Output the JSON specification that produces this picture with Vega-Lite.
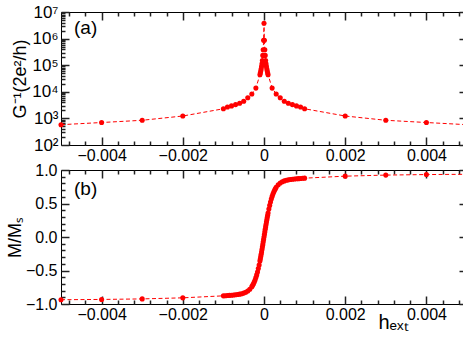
{
  "$schema": "https://vega.github.io/schema/vega-lite/v6.json",
  "padding": {"left": 5, "top": 2, "right": 4, "bottom": 0},
  "spacing": 25,
  "bounds": "flush",
  "config": {
    "view": {"stroke": "black", "strokeWidth": 1},
    "font": "Liberation Sans",
    "axis": {
      "grid": false,
      "ticks": true,
      "domain": false,
      "tickColor": "#222222",
      "tickWidth": 1.5,
      "tickOpacity": 1,
      "zindex": 2,
      "labelFont": "Liberation Sans",
      "labelFontSize": 16,
      "labelColor": "black",
      "labelOverlap": false,
      "labelFlush": false,
      "titleFont": "Liberation Sans",
      "titleFontSize": 18,
      "titleFontWeight": "normal",
      "titleColor": "black"
    }
  },
  "datasets": {
    "top": [
      {"h": -0.005, "g": 580}, {"h": -0.004, "g": 700}, {"h": -0.003, "g": 850}, {"h": -0.002, "g": 1230},
      {"h": -0.001, "g": 2300}, {"h": -0.0009, "g": 2700}, {"h": -0.0008, "g": 2950}, {"h": -0.0007, "g": 3300},
      {"h": -0.0006, "g": 3700}, {"h": -0.0005, "g": 4400}, {"h": -0.0004, "g": 6000}, {"h": -0.0003, "g": 8300},
      {"h": -0.0002, "g": 13800}, {"h": -0.0001, "g": 44000}, {"h": -0.00009, "g": 51000}, {"h": -0.00008, "g": 60000},
      {"h": -0.00007, "g": 72000}, {"h": -0.00006, "g": 89000}, {"h": -0.00005, "g": 112000}, {"h": -0.00004, "g": 151000},
      {"h": -0.00003, "g": 234000}, {"h": -0.00002, "g": 380000}, {"h": -0.00001, "g": 870000}, {"h": 0, "g": 3800000},
      {"h": 0.00001, "g": 870000}, {"h": 0.00002, "g": 380000}, {"h": 0.00003, "g": 234000}, {"h": 0.00004, "g": 151000},
      {"h": 0.00005, "g": 112000}, {"h": 0.00006, "g": 89000}, {"h": 0.00007, "g": 72000}, {"h": 0.00008, "g": 60000},
      {"h": 0.00009, "g": 51000}, {"h": 0.0001, "g": 44000}, {"h": 0.0002, "g": 13800}, {"h": 0.0003, "g": 8300},
      {"h": 0.0004, "g": 6000}, {"h": 0.0005, "g": 4400}, {"h": 0.0006, "g": 3700}, {"h": 0.0007, "g": 3300},
      {"h": 0.0008, "g": 2950}, {"h": 0.0009, "g": 2700}, {"h": 0.001, "g": 2300}, {"h": 0.002, "g": 1230},
      {"h": 0.003, "g": 850}, {"h": 0.004, "g": 700}, {"h": 0.005, "g": 580}
    ],
    "bottom": [
      {"h": -0.005, "m": -0.936}, {"h": -0.004, "m": -0.932}, {"h": -0.003, "m": -0.924}, {"h": -0.002, "m": -0.908},
      {"h": -0.001, "m": -0.878}, {"h": -0.00095, "m": -0.876}, {"h": -0.0009, "m": -0.874}, {"h": -0.00085, "m": -0.871},
      {"h": -0.0008, "m": -0.869}, {"h": -0.00075, "m": -0.865}, {"h": -0.0007, "m": -0.862}, {"h": -0.00065, "m": -0.858},
      {"h": -0.0006, "m": -0.853}, {"h": -0.00055, "m": -0.846}, {"h": -0.0005, "m": -0.837}, {"h": -0.00045, "m": -0.824},
      {"h": -0.0004, "m": -0.806}, {"h": -0.00035, "m": -0.78}, {"h": -0.0003, "m": -0.741}, {"h": -0.00028, "m": -0.721},
      {"h": -0.00026, "m": -0.698}, {"h": -0.00024, "m": -0.671}, {"h": -0.00022, "m": -0.641}, {"h": -0.0002, "m": -0.606},
      {"h": -0.00018, "m": -0.566}, {"h": -0.00016, "m": -0.522}, {"h": -0.00014, "m": -0.472}, {"h": -0.00012, "m": -0.417},
      {"h": -0.0001, "m": -0.357}, {"h": -0.00009, "m": -0.325}, {"h": -0.00008, "m": -0.292}, {"h": -0.00007, "m": -0.258},
      {"h": -0.00006, "m": -0.223}, {"h": -0.00005, "m": -0.187}, {"h": -0.00004, "m": -0.151}, {"h": -0.00003, "m": -0.114},
      {"h": -0.00002, "m": -0.076}, {"h": -0.00001, "m": -0.038}, {"h": 0, "m": 0},
      {"h": 0.00001, "m": 0.038}, {"h": 0.00002, "m": 0.076}, {"h": 0.00003, "m": 0.114}, {"h": 0.00004, "m": 0.151},
      {"h": 0.00005, "m": 0.187}, {"h": 0.00006, "m": 0.223}, {"h": 0.00007, "m": 0.258}, {"h": 0.00008, "m": 0.292},
      {"h": 0.00009, "m": 0.325}, {"h": 0.0001, "m": 0.357}, {"h": 0.00012, "m": 0.417}, {"h": 0.00014, "m": 0.472},
      {"h": 0.00016, "m": 0.522}, {"h": 0.00018, "m": 0.566}, {"h": 0.0002, "m": 0.606}, {"h": 0.00022, "m": 0.641},
      {"h": 0.00024, "m": 0.671}, {"h": 0.00026, "m": 0.698}, {"h": 0.00028, "m": 0.721}, {"h": 0.0003, "m": 0.741},
      {"h": 0.00035, "m": 0.78}, {"h": 0.0004, "m": 0.806}, {"h": 0.00045, "m": 0.824}, {"h": 0.0005, "m": 0.837},
      {"h": 0.00055, "m": 0.846}, {"h": 0.0006, "m": 0.853}, {"h": 0.00065, "m": 0.858}, {"h": 0.0007, "m": 0.862},
      {"h": 0.00075, "m": 0.865}, {"h": 0.0008, "m": 0.869}, {"h": 0.00085, "m": 0.871}, {"h": 0.0009, "m": 0.874},
      {"h": 0.00095, "m": 0.876}, {"h": 0.001, "m": 0.878}, {"h": 0.002, "m": 0.908}, {"h": 0.003, "m": 0.924},
      {"h": 0.004, "m": 0.932}, {"h": 0.005, "m": 0.936}
    ]
  },
  "vconcat": [
    {
      "width": 406,
      "height": 133,
      "data": {"name": "top"},
      "layer": [
        {
          "mark": {"type": "line", "color": "#ff0000", "strokeWidth": 1, "strokeDash": [4, 2.5], "clip": false},
          "encoding": {
            "x": {"field": "h", "type": "quantitative", "scale": {"domain": [-0.005, 0.005], "nice": false, "zero": false},
              "axis": {"orient": "bottom", "title": null, "offset": -8, "tickSize": 8, "labelPadding": 2,
                "values": [-0.004, -0.002, 0, 0.002, 0.004], "format": ".3~f"}},
            "y": {"field": "g", "type": "quantitative", "scale": {"type": "log", "domain": [100, 10000000], "nice": false},
              "axis": {"orient": "left", "title": "G⁻¹(2e²/h)", "titlePadding": 2, "labelFontSize": 17,
                "offset": -8, "tickSize": 8, "labelPadding": 3,
                "values": [100, 1000, 10000, 100000, 1000000, 10000000],
                "labelExpr": "'10' + ['⁰','¹','²','³','⁴','⁵','⁶','⁷'][round(log(datum.value)/LN10)]"}}
          }
        },
        {
          "mark": {"type": "circle", "color": "#ff0000", "size": 26, "opacity": 1, "clip": false},
          "encoding": {
            "x": {"field": "h", "type": "quantitative",
              "axis": {"orient": "top", "title": null, "labels": false, "offset": -8, "tickSize": 8,
                "values": [-0.004, -0.002, 0, 0.002, 0.004]}},
            "y": {"field": "g", "type": "quantitative",
              "axis": {"orient": "right", "title": null, "labels": false, "offset": -8, "tickSize": 8,
                "values": [100, 1000, 10000, 100000, 1000000, 10000000]}}
          }
        },
        {
          "data": {"values": [{"t": "(a)"}]},
          "mark": {"type": "text", "align": "left", "baseline": "middle", "fontSize": 19, "font": "Liberation Sans", "color": "black"},
          "encoding": {
            "x": {"datum": -0.00468, "type": "quantitative",
              "axis": {"orient": "bottom", "title": null, "labels": false, "offset": -4, "tickSize": 4,
                "values": [-0.0048,-0.0044,-0.0036,-0.0032,-0.0028,-0.0024,-0.0016,-0.0012,-0.0008,-0.0004,0.0004,0.0008,0.0012,0.0016,0.0024,0.0028,0.0032,0.0036,0.0044,0.0048]}},
            "y": {"datum": 2500000, "type": "quantitative",
              "axis": {"orient": "left", "title": null, "labels": false, "offset": -4, "tickSize": 4,
                "values": [200,300,400,500,600,700,800,900,2000,3000,4000,5000,6000,7000,8000,9000,20000,30000,40000,50000,60000,70000,80000,90000,200000,300000,400000,500000,600000,700000,800000,900000,2000000,3000000,4000000,5000000,6000000,7000000,8000000,9000000]}},
            "text": {"field": "t"}
          }
        },
        {
          "mark": {"type": "circle", "opacity": 0, "size": 1},
          "encoding": {
            "x": {"field": "h", "type": "quantitative",
              "axis": {"orient": "top", "title": null, "labels": false, "offset": -4, "tickSize": 4,
                "values": [-0.0048,-0.0044,-0.0036,-0.0032,-0.0028,-0.0024,-0.0016,-0.0012,-0.0008,-0.0004,0.0004,0.0008,0.0012,0.0016,0.0024,0.0028,0.0032,0.0036,0.0044,0.0048]}},
            "y": {"field": "g", "type": "quantitative",
              "axis": {"orient": "right", "title": null, "labels": false, "offset": -4, "tickSize": 4,
                "values": [200,300,400,500,600,700,800,900,2000,3000,4000,5000,6000,7000,8000,9000,20000,30000,40000,50000,60000,70000,80000,90000,200000,300000,400000,500000,600000,700000,800000,900000,2000000,3000000,4000000,5000000,6000000,7000000,8000000,9000000]}}
          }
        }
      ],
      "resolve": {"axis": {"x": "independent", "y": "independent"}}
    },
    {
      "width": 406,
      "height": 134,
      "data": {"name": "bottom"},
      "layer": [
        {
          "mark": {"type": "line", "color": "#ff0000", "strokeWidth": 1, "strokeDash": [4, 2.5], "clip": false},
          "encoding": {
            "x": {"field": "h", "type": "quantitative", "scale": {"domain": [-0.005, 0.005], "nice": false, "zero": false},
              "axis": {"orient": "bottom", "title": "hₑₓₜ", "titleFontSize": 20, "titleX": 332, "titleY": 16, "titleBaseline": "top", "titlePadding": 0,
                "offset": -8, "tickSize": 8, "labelPadding": 2,
                "values": [-0.004, -0.002, 0, 0.002, 0.004], "format": ".3~f"}},
            "y": {"field": "m", "type": "quantitative", "scale": {"domain": [-1, 1], "nice": false},
              "axis": {"orient": "left", "title": "M/Mₛ", "titlePadding": 1,
                "offset": -8, "tickSize": 8, "labelPadding": 4,
                "values": [-1, -0.5, 0, 0.5, 1], "format": ".1f"}}
          }
        },
        {
          "mark": {"type": "circle", "color": "#ff0000", "size": 26, "opacity": 1, "clip": false},
          "encoding": {
            "x": {"field": "h", "type": "quantitative",
              "axis": {"orient": "top", "title": null, "labels": false, "offset": -8, "tickSize": 8,
                "values": [-0.004, -0.002, 0, 0.002, 0.004]}},
            "y": {"field": "m", "type": "quantitative",
              "axis": {"orient": "right", "title": null, "labels": false, "offset": -8, "tickSize": 8,
                "values": [-1, -0.5, 0, 0.5, 1]}}
          }
        },
        {
          "data": {"values": [{"t": "(b)"}]},
          "mark": {"type": "text", "align": "left", "baseline": "middle", "fontSize": 19, "font": "Liberation Sans", "color": "black"},
          "encoding": {
            "x": {"datum": -0.00468, "type": "quantitative",
              "axis": {"orient": "bottom", "title": null, "labels": false, "offset": -4, "tickSize": 4,
                "values": [-0.0048,-0.0044,-0.0036,-0.0032,-0.0028,-0.0024,-0.0016,-0.0012,-0.0008,-0.0004,0.0004,0.0008,0.0012,0.0016,0.0024,0.0028,0.0032,0.0036,0.0044,0.0048]}},
            "y": {"datum": 0.71, "type": "quantitative",
              "axis": {"orient": "left", "title": null, "labels": false, "offset": -4, "tickSize": 4,
                "values": [-0.9,-0.8,-0.7,-0.6,-0.4,-0.3,-0.2,-0.1,0.1,0.2,0.3,0.4,0.6,0.7,0.8,0.9]}},
            "text": {"field": "t"}
          }
        },
        {
          "mark": {"type": "circle", "opacity": 0, "size": 1},
          "encoding": {
            "x": {"field": "h", "type": "quantitative",
              "axis": {"orient": "top", "title": null, "labels": false, "offset": -4, "tickSize": 4,
                "values": [-0.0048,-0.0044,-0.0036,-0.0032,-0.0028,-0.0024,-0.0016,-0.0012,-0.0008,-0.0004,0.0004,0.0008,0.0012,0.0016,0.0024,0.0028,0.0032,0.0036,0.0044,0.0048]}},
            "y": {"field": "m", "type": "quantitative",
              "axis": {"orient": "right", "title": null, "labels": false, "offset": -4, "tickSize": 4,
                "values": [-0.9,-0.8,-0.7,-0.6,-0.4,-0.3,-0.2,-0.1,0.1,0.2,0.3,0.4,0.6,0.7,0.8,0.9]}}
          }
        }
      ],
      "resolve": {"axis": {"x": "independent", "y": "independent"}}
    }
  ]
}
